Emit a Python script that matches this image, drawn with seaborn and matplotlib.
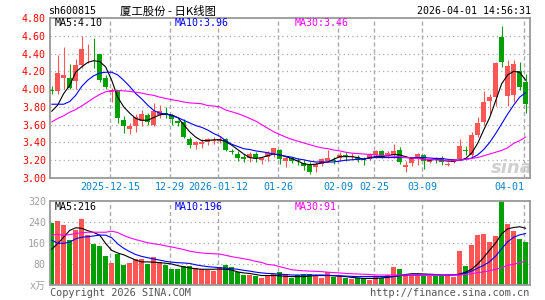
import numpy as np
import pandas as pd
import seaborn as sns
import matplotlib
matplotlib.use("Agg")
import matplotlib.pyplot as plt

sns.set_style("white")
plt.rcParams["font.family"] = ["DejaVu Sans Mono", "Noto Sans CJK SC"]

# daily candles, 2025-12-01 .. 2026-04-01 (80 trading days)
opens = [3.99, 3.98, 4.12, 4.12, 4.09, 4.27, 4.39, 4.40, 4.39, 4.12,
         3.97, 3.99, 3.65, 3.55, 3.59, 3.64, 3.71, 3.60, 3.71, 3.73,
         3.71, 3.64, 3.63, 3.44, 3.37, 3.38, 3.40, 3.42, 3.42, 3.44,
         3.30, 3.27, 3.24, 3.22, 3.27, 3.20, 3.24, 3.28, 3.32, 3.19,
         3.22, 3.20, 3.17, 3.15, 3.12, 3.16, 3.19, 3.20, 3.23, 3.26,
         3.24, 3.24, 3.21, 3.21, 3.26, 3.30, 3.25, 3.26, 3.32, 3.12,
         3.17, 3.22, 3.26, 3.18, 3.22, 3.23, 3.15, 3.18, 3.21, 3.31,
         3.26, 3.48, 3.63, 3.87, 3.91, 4.59, 3.92, 3.93, 4.20, 4.08]
highs = [4.03, 4.38, 4.47, 4.28, 4.34, 4.60, 4.51, 4.58, 4.40, 4.16,
         4.01, 3.99, 3.70, 3.62, 3.72, 3.76, 3.73, 3.84, 3.82, 3.80,
         3.72, 3.65, 3.66, 3.46, 3.42, 3.44, 3.45, 3.46, 3.47, 3.45,
         3.33, 3.30, 3.27, 3.29, 3.29, 3.24, 3.30, 3.34, 3.33, 3.24,
         3.24, 3.22, 3.20, 3.18, 3.18, 3.22, 3.31, 3.24, 3.29, 3.29,
         3.28, 3.26, 3.24, 3.28, 3.32, 3.31, 3.30, 3.38, 3.35, 3.19,
         3.23, 3.28, 3.27, 3.21, 3.24, 3.25, 3.18, 3.21, 3.44, 3.36,
         3.52, 3.69, 3.98, 3.95, 4.30, 4.71, 4.33, 4.33, 4.31, 4.17]
lows = [3.94, 3.95, 4.00, 4.00, 4.00, 4.24, 4.29, 4.24, 4.08, 4.00,
        3.85, 3.62, 3.51, 3.49, 3.52, 3.58, 3.60, 3.59, 3.68, 3.68,
        3.60, 3.58, 3.45, 3.34, 3.33, 3.34, 3.37, 3.38, 3.39, 3.30,
        3.27, 3.19, 3.18, 3.18, 3.18, 3.16, 3.19, 3.24, 3.16, 3.12,
        3.17, 3.15, 3.09, 3.04, 3.07, 3.13, 3.18, 3.16, 3.19, 3.19,
        3.21, 3.18, 3.15, 3.20, 3.23, 3.22, 3.23, 3.22, 3.16, 3.07,
        3.14, 3.15, 3.10, 3.17, 3.17, 3.15, 3.13, 3.17, 3.20, 3.26,
        3.24, 3.46, 3.60, 3.72, 3.81, 4.25, 3.81, 3.86, 3.99, 3.73]
closes = [3.98, 4.18, 4.16, 4.01, 4.27, 4.45, 4.40, 4.39, 4.10, 4.02,
          3.99, 3.67, 3.58, 3.59, 3.69, 3.72, 3.63, 3.75, 3.75, 3.71,
          3.66, 3.62, 3.46, 3.37, 3.40, 3.41, 3.44, 3.43, 3.44, 3.32,
          3.29, 3.23, 3.21, 3.27, 3.22, 3.22, 3.28, 3.34, 3.21, 3.23,
          3.19, 3.19, 3.13, 3.07, 3.16, 3.21, 3.23, 3.19, 3.26, 3.25,
          3.25, 3.20, 3.20, 3.26, 3.30, 3.24, 3.28, 3.30, 3.18, 3.15,
          3.22, 3.27, 3.19, 3.20, 3.21, 3.18, 3.16, 3.20, 3.36, 3.30,
          3.48, 3.62, 3.85, 3.91, 4.29, 4.31, 4.26, 4.28, 4.02, 3.83]

ma5 = [3.75, 3.82, 3.95, 4.04, 4.19, 4.25, 4.30, 4.32, 4.31, 4.25,
       4.10, 3.91, 3.80, 3.73, 3.67, 3.65, 3.65, 3.68, 3.71, 3.72,
       3.71, 3.68, 3.60, 3.52, 3.46, 3.42, 3.42, 3.43, 3.43, 3.41,
       3.37, 3.32, 3.27, 3.23, 3.22, 3.23, 3.25, 3.27, 3.26, 3.24,
       3.22, 3.19, 3.16, 3.15, 3.155, 3.17, 3.18, 3.21, 3.24, 3.24,
       3.24, 3.23, 3.21, 3.23, 3.24, 3.24, 3.25, 3.265, 3.26, 3.24,
       3.22, 3.23, 3.21, 3.20, 3.21, 3.20, 3.19, 3.19, 3.20, 3.22,
       3.28, 3.39, 3.54, 3.68, 3.87, 4.06, 4.16, 4.20, 4.19, 4.10]
ma10 = [3.83, 3.83, 3.83, 3.86, 3.93, 4.03, 4.10, 4.15, 4.18, 4.19,
        4.19, 4.16, 4.10, 4.03, 3.95, 3.89, 3.82, 3.76, 3.73, 3.72,
        3.70, 3.68, 3.65, 3.62, 3.59, 3.57, 3.54, 3.50, 3.47, 3.42,
        3.38, 3.355, 3.33, 3.32, 3.305, 3.295, 3.285, 3.27, 3.26, 3.245,
        3.235, 3.215, 3.205, 3.19, 3.18, 3.18, 3.18, 3.18, 3.19, 3.20,
        3.205, 3.21, 3.215, 3.225, 3.23, 3.23, 3.23, 3.23, 3.23, 3.23,
        3.23, 3.23, 3.23, 3.225, 3.22, 3.22, 3.21, 3.205, 3.20, 3.21,
        3.225, 3.26, 3.32, 3.40, 3.50, 3.61, 3.72, 3.82, 3.91, 3.96]
ma30 = [3.63, 3.67, 3.70, 3.74, 3.77, 3.81, 3.855, 3.90, 3.94, 3.97,
        3.98, 3.985, 3.98, 3.975, 3.965, 3.955, 3.94, 3.93, 3.91, 3.895,
        3.88, 3.87, 3.855, 3.845, 3.84, 3.835, 3.815, 3.81, 3.80, 3.765,
        3.745, 3.725, 3.70, 3.67, 3.64, 3.60, 3.56, 3.52, 3.49, 3.46,
        3.435, 3.415, 3.395, 3.375, 3.355, 3.34, 3.33, 3.315, 3.305, 3.29,
        3.28, 3.275, 3.27, 3.265, 3.26, 3.255, 3.25, 3.245, 3.24, 3.23,
        3.225, 3.22, 3.21, 3.21, 3.205, 3.20, 3.20, 3.20, 3.20, 3.21,
        3.22, 3.23, 3.25, 3.27, 3.29, 3.31, 3.34, 3.39, 3.42, 3.46]

# volume in 万
volumes = [237, 244, 229, 171, 210, 251, 190, 156, 149, 112,
           85, 117, 76, 85, 100, 100, 80, 108, 89, 76,
           61, 61, 74, 72, 66, 61, 57, 53, 70, 76,
           70, 48, 38, 38, 36, 28, 35, 41, 50, 41,
           28, 38, 42, 42, 36, 28, 51, 32, 34, 28,
           23, 25, 25, 19, 34, 28, 38, 70, 61, 41,
           38, 38, 34, 34, 34, 34, 34, 32, 131, 72,
           152, 190, 194, 165, 187, 325, 232, 207, 175, 165]
vma5 = [136, 158, 182, 208, 218, 216, 207, 200, 190, 158,
        132, 122, 115, 105, 95, 88, 88, 87, 85, 83,
        80, 74, 69, 65, 62, 60, 60, 60, 61, 60,
        57, 50, 46, 44, 40, 36, 36, 36, 35, 33,
        32, 32, 32, 34, 36, 36, 36, 35, 34, 32,
        29, 27, 25, 25, 25, 27, 29, 32, 36, 40,
        43, 43, 42, 41, 40, 38, 38, 38, 42, 49,
        60, 80, 105, 133, 160, 195, 214, 219, 222, 216]
vma10 = [171, 159, 159, 163, 176, 182, 184, 187, 190, 190,
         180, 157, 140, 127, 116, 109, 104, 99, 95, 90,
         87, 85, 84, 82, 77, 73, 70, 68, 66, 64,
         62, 60, 56, 53, 49, 46, 44, 43, 41, 40,
         38, 38, 38, 38, 38, 38, 37, 36, 35, 34,
         33, 32, 32, 32, 32, 32, 32, 33, 35, 37,
         38, 38, 38, 38, 38, 38, 38, 38, 40, 45,
         53, 64, 75, 89, 110, 138, 165, 182, 191, 196]
vma30 = [190, 193, 189, 192, 196, 199, 201, 201, 201, 201,
         205, 200, 189, 180, 173, 167, 161, 157, 154, 149,
         145, 140, 135, 129, 125, 122, 120, 119, 118, 113,
         108, 104, 100, 96, 90, 86, 78, 76, 70, 64,
         58, 56, 54, 53, 52, 51, 49, 47, 46, 44,
         43, 42, 41, 40, 38, 38, 38, 38, 38, 38,
         38, 38, 38, 38, 38, 38, 38, 38, 38, 40,
         43, 47, 50, 54, 60, 66, 75, 79, 85, 91]

date_pos = [10, 20, 28, 38, 48, 54, 62, 79]
date_labels = ["2025-12-15", "12-29", "2026-01-12", "01-26", "02-09", "02-25", "03-09", "04-01"]
price_ticks = [3.00, 3.20, 3.40, 3.60, 3.80, 4.00, 4.20, 4.40, 4.60, 4.80]
vol_ticks = [0, 80, 160, 240, 320]
vol_tick_labels = ["x万", "80", "160", "240", "320"]

df = pd.DataFrame({"open": opens, "high": highs, "low": lows, "close": closes,
                   "ma5": ma5, "ma10": ma10, "ma30": ma30,
                   "vol": volumes, "vma5": vma5, "vma10": vma10, "vma30": vma30})
df["idx"] = np.arange(len(df))
RED, GREEN = "#ff5555", "#00a000"
cols = np.where(df["close"] >= df["open"], RED, GREEN)

W, H = 545, 300
def box(l, t, r, b):
    return [l / W, 1 - b / H, (r - l) / W, (b - t) / H]

fig = plt.figure(figsize=(W / 100, H / 100), dpi=100)
ax = fig.add_axes(box(50, 18, 530, 178))
axv = fig.add_axes(box(50, 201, 530, 285))
grid_c = "#aaaaaa"

for a in (ax, axv):
    a.set_xlim(-0.28, 79.72)
    for p in date_pos:
        a.axvline(p - 0.3, color=grid_c, lw=1, ls=(0, (3, 2)), zorder=0)
    for s in a.spines.values():
        s.set_color("#999999")
        s.set_linewidth(1.3)
    a.set_xticks([])

# price panel
ax.set_ylim(3.0, 4.8)
for y in price_ticks[1:-1]:
    ax.axhline(y, color=grid_c, lw=0.9, ls=(0, (1, 2.5)), zorder=0)
ax.vlines(df["idx"], df["low"], df["high"], colors=cols, lw=0.8, zorder=2)
body = np.maximum((df["close"] - df["open"]).abs(), 0.01)
ax.bar(df["idx"], body, bottom=np.minimum(df["open"], df["close"]),
       width=0.75, color=cols, linewidth=0, zorder=3)
sns.lineplot(data=df, x="idx", y="ma5", color="black", lw=0.8, ax=ax, zorder=4)
sns.lineplot(data=df, x="idx", y="ma10", color="#0000ff", lw=0.8, ax=ax, zorder=4)
sns.lineplot(data=df, x="idx", y="ma30", color="#ff00ff", lw=0.8, ax=ax, zorder=4)
ax.set_yticks(price_ticks)
ax.set_yticklabels([f"{v:.2f}" for v in price_ticks])
ax.tick_params(axis="y", length=0, pad=3, labelcolor="#ff0000", labelsize=7.2)
ax.set_xlabel("")
ax.set_ylabel("")
ax.text(0.9625, 0.06, "sina", transform=ax.transAxes, ha="center", va="center",
        fontsize=13, fontweight="bold", style="italic", color="#cfcfcf",
        family="DejaVu Sans", zorder=1)

for p, lab in zip(date_pos, date_labels):
    ha = "right" if p == date_pos[-1] else "center"
    ax.text(p - 0.3, -0.054, lab, transform=ax.get_xaxis_transform(), ha=ha,
            va="center", fontsize=7.2, color="#0a82c8")

# volume panel
axv.set_ylim(0, 320)
for y in vol_ticks[1:-1]:
    axv.axhline(y, color=grid_c, lw=0.9, ls=(0, (1, 2.5)), zorder=0)
axv.bar(df["idx"], df["vol"], width=0.82, color=cols, linewidth=0, zorder=2)
sns.lineplot(data=df, x="idx", y="vma5", color="black", lw=0.8, ax=axv, zorder=4)
sns.lineplot(data=df, x="idx", y="vma10", color="#0000ff", lw=0.8, ax=axv, zorder=4)
sns.lineplot(data=df, x="idx", y="vma30", color="#ff00ff", lw=0.8, ax=axv, zorder=4)
axv.set_yticks(vol_ticks)
axv.set_yticklabels(vol_tick_labels)
axv.tick_params(axis="y", length=0, pad=3, labelcolor="#a0a0a0", labelsize=7.2)
axv.set_xlabel("")
axv.set_ylabel("")

def ptext(x, y, s, **kw):
    fig.text(x / W, 1 - y / H, s, va="center", **kw)

ptext(48, 11, "sh600815", fontsize=7.2, color="black")
ptext(120, 11, "厦工股份 - 日K线图", fontsize=8.2, color="black",
      family=["Noto Sans CJK SC", "DejaVu Sans"])
ptext(531, 11, "2026-04-01 14:56:31", fontsize=7.2, color="black", ha="right")

ptext(55, 23.5, "MA5:4.10", fontsize=7.2, color="black")
ptext(175, 23.5, "MA10:3.96", fontsize=7.2, color="#0000ff")
ptext(295, 23.5, "MA30:3.46", fontsize=7.2, color="#ff00ff")
ptext(55, 207, "MA5:216", fontsize=7.2, color="black")
ptext(175, 207, "MA10:196", fontsize=7.2, color="#0000ff")
ptext(295, 207, "MA30:91", fontsize=7.2, color="#ff00ff")

ptext(50, 292.5, "Copyright 2026 SINA.COM", fontsize=7.4, color="#555555")
ptext(529, 292.5, "http://finance.sina.com.cn", fontsize=7.4, color="#555555", ha="right")

fig.savefig("out.png", dpi=100)
